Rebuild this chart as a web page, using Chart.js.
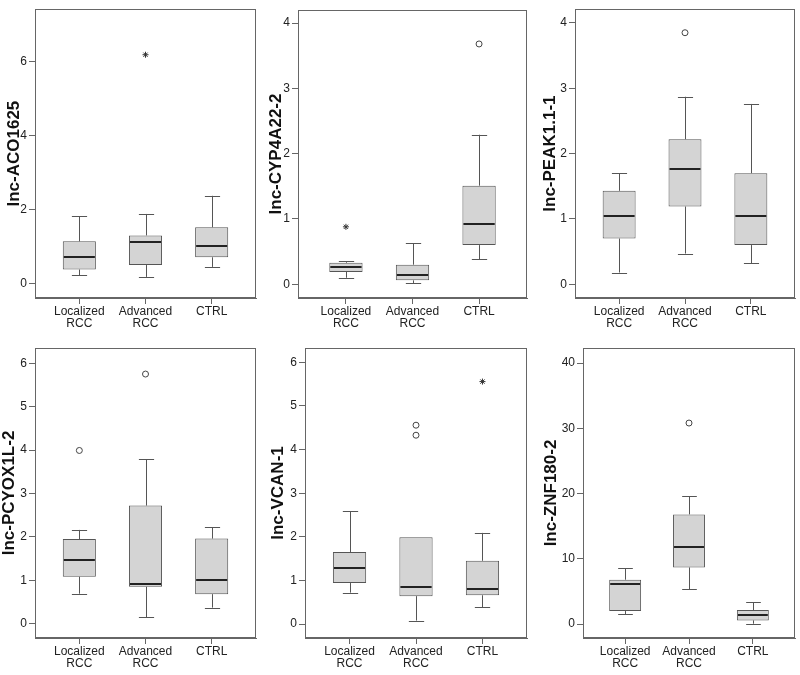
<!DOCTYPE html>
<html>
<head>
<meta charset="utf-8">
<script src="https://cdn.jsdelivr.net/npm/chart.js@4.4.0/dist/chart.umd.min.js"></script>
<style>
  body { margin: 0; background: #fff; }
  #wrap { position: relative; width: 800px; height: 675px; }
  .panel { position: absolute; }
</style>
</head>
<body>
<div id="wrap"></div>
<script>
// Categories and genes
const groups = [['Localized', 'RCC'], ['Advanced', 'RCC'], ['CTRL']];
const genes = ['lnc-ACO1625', 'lnc-CYP4A22-2', 'lnc-PEAK1.1-1', 'lnc-PCYOX1L-2', 'lnc-VCAN-1', 'lnc-ZNF180-2'];

// Box statistics, one row per gene, one value per group
const whiskerLow = [
    [0.22, 0.18, 0.45],
    [0.10, 0.02, 0.38],
    [0.18, 0.47, 0.32],
    [0.69, 0.15, 0.37],
    [0.72, 0.08, 0.38],
    [1.48, 5.36, 0.05]
];
const quart1 = [
    [0.38, 0.50, 0.71],
    [0.19, 0.06, 0.60],
    [0.70, 1.19, 0.60],
    [1.08, 0.85, 0.68],
    [0.94, 0.64, 0.66],
    [1.99, 8.67, 0.56]
];
const medians = [
    [0.72, 1.13, 1.02],
    [0.26, 0.14, 0.92],
    [1.05, 1.77, 1.04],
    [1.47, 0.91, 1.00],
    [1.29, 0.86, 0.80],
    [6.12, 11.8, 1.38]
];
const quart3 = [
    [1.14, 1.30, 1.52],
    [0.33, 0.30, 1.51],
    [1.43, 2.22, 1.70],
    [1.95, 2.72, 1.96],
    [1.65, 1.99, 1.45],
    [6.79, 16.8, 2.14]
];
const whiskerHigh = [
    [1.82, 1.88, 2.37],
    [0.35, 0.63, 2.29],
    [1.70, 2.87, 2.76],
    [2.16, 3.79, 2.22],
    [2.59, 1.99, 2.09],
    [8.57, 19.6, 3.37]
];

// Outliers as [group index, value]
const outlierCircles = [
    [],
    [[2, 3.68]],
    [[1, 3.85]],
    [[0, 3.99], [1, 5.75]],
    [[1, 4.56], [1, 4.33]],
    [[1, 30.8]]
];
const outlierStars = [
    [[1, 6.18]],
    [[0, 0.88]],
    [],
    [],
    [[2, 5.56]],
    []
];

// Y tick labels per gene
const yTicks = [
    [0, 2, 4, 6],
    [0, 1, 2, 3, 4],
    [0, 1, 2, 3, 4],
    [0, 1, 2, 3, 4, 5, 6],
    [0, 1, 2, 3, 4, 5, 6],
    [0, 10, 20, 30, 40]
];

// Panel placement: canvas box [x0,y0,x1,y1], plot frame [left,right,top,bottom], axis ranges
const panels = [
    { box: [0, 0, 262, 333],     frame: [35, 256, 3, 298],    xr: [-0.67, 2.67], yr: [-0.39, 7.41], titlePad: 4 },
    { box: [265, 0, 532, 333],   frame: [298, 528, 10, 298],  xr: [-0.72, 2.72], yr: [-0.21, 4.20], titlePad: 1 },
    { box: [535, 0, 800, 333],   frame: [575, 797, 8, 298],   xr: [-0.67, 2.67], yr: [-0.21, 4.21], titlePad: 5 },
    { box: [0, 335, 262, 675],   frame: [35, 256, 348, 638],  xr: [-0.67, 2.67], yr: [-0.33, 6.35], titlePad: -1 },
    { box: [265, 335, 532, 675], frame: [305, 528, 348, 638], xr: [-0.67, 2.67], yr: [-0.32, 6.33], titlePad: 3 },
    { box: [535, 335, 800, 675], frame: [583, 797, 348, 638], xr: [-0.66, 2.66], yr: [-2.14, 42.3], titlePad: 6 }
];

Chart.defaults.font.family = '"Liberation Sans", Arial, Helvetica, sans-serif';
Chart.defaults.color = '#222';

const lineColor = '#666';

// Draws whiskers, caps and medians using the chart's scales
const boxPlotPlugin = {
    id: 'boxPlot',
    afterDatasetsDraw(chart) {
        const g = chart.options.plugins.boxPlot.gene;
        const yScale = chart.scales.y;
        const meta = chart.getDatasetMeta(0);
        const ctx = chart.ctx;
        ctx.save();
        meta.data.forEach((bar, i) => {
            const x = Math.round(bar.x) + 0.5;
            const half = bar.width / 2;
            const cap = bar.width * 0.23;
            const yLow = yScale.getPixelForValue(whiskerLow[g][i]);
            const yQ1 = yScale.getPixelForValue(quart1[g][i]);
            const yQ3 = yScale.getPixelForValue(quart3[g][i]);
            const yHigh = yScale.getPixelForValue(whiskerHigh[g][i]);
            const yMed = yScale.getPixelForValue(medians[g][i]);

            ctx.strokeStyle = '#555';
            ctx.lineWidth = 1;
            ctx.beginPath();
            if (yHigh < yQ3 - 0.5) {
                ctx.moveTo(x, yQ3);
                ctx.lineTo(x, yHigh);
                ctx.moveTo(x - cap, Math.round(yHigh) + 0.5);
                ctx.lineTo(x + cap, Math.round(yHigh) + 0.5);
            }
            if (yLow > yQ1 + 0.5) {
                ctx.moveTo(x, yQ1);
                ctx.lineTo(x, yLow);
                ctx.moveTo(x - cap, Math.round(yLow) + 0.5);
                ctx.lineTo(x + cap, Math.round(yLow) + 0.5);
            }
            ctx.stroke();

            ctx.strokeStyle = '#222';
            ctx.lineWidth = 2;
            ctx.beginPath();
            ctx.moveTo(bar.x - half + 1, Math.round(yMed));
            ctx.lineTo(bar.x + half - 1, Math.round(yMed));
            ctx.stroke();
        });
        ctx.restore();
    },
    afterDraw(chart) {
        const a = chart.chartArea;
        const ctx = chart.ctx;
        ctx.save();
        ctx.strokeStyle = lineColor;
        ctx.lineWidth = 1;
        ctx.strokeRect(Math.round(a.left) + 0.5, Math.round(a.top) + 0.5,
            Math.round(a.right - a.left) - 1, Math.round(a.bottom - a.top) - 1);
        ctx.restore();
    }
};

function makePanel(g) {
    const p = panels[g];
    const [x0, y0, x1, y1] = p.box;
    const [fl, fr, ft, fb] = p.frame;

    const div = document.createElement('div');
    div.className = 'panel';
    div.style.left = x0 + 'px';
    div.style.top = y0 + 'px';
    div.style.width = (x1 - x0) + 'px';
    div.style.height = (y1 - y0) + 'px';
    const canvas = document.createElement('canvas');
    div.appendChild(canvas);
    document.getElementById('wrap').appendChild(div);

    const boxes = groups.map((_, i) => ({ x: i, y: [quart1[g][i], quart3[g][i]] }));
    const circles = outlierCircles[g].map(o => ({ x: o[0], y: o[1] }));
    const stars = outlierStars[g].map(o => ({ x: o[0], y: o[1] }));

    new Chart(canvas, {
        type: 'bar',
        data: {
            datasets: [
                {
                    data: boxes,
                    backgroundColor: '#d4d4d4',
                    borderColor: '#555',
                    borderWidth: 1,
                    borderSkipped: false,
                    barPercentage: 0.5,
                    categoryPercentage: 1
                },
                {
                    type: 'scatter',
                    data: circles,
                    pointStyle: 'circle',
                    radius: 3,
                    borderWidth: 1,
                    borderColor: '#444',
                    backgroundColor: '#fff'
                },
                {
                    type: 'scatter',
                    data: stars,
                    pointStyle: 'star',
                    radius: 3,
                    borderWidth: 1,
                    borderColor: '#333',
                    backgroundColor: '#333'
                }
            ]
        },
        options: {
            responsive: true,
            maintainAspectRatio: false,
            animation: false,
            devicePixelRatio: 1,
            layout: { padding: { top: ft - y0, right: x1 - fr, left: 0, bottom: 0 } },
            plugins: {
                legend: { display: false },
                tooltip: { enabled: false },
                boxPlot: { gene: g }
            },
            scales: {
                x: {
                    type: 'linear',
                    offset: false,
                    min: p.xr[0],
                    max: p.xr[1],
                    afterBuildTicks: s => { s.ticks = groups.map((_, i) => ({ value: i })); },
                    afterFit: s => { s.height = y1 - fb; },
                    ticks: {
                        autoSkip: false,
                        maxRotation: 0,
                        padding: 1,
                        font: { size: 12, lineHeight: 1.05 },
                        color: '#222',
                        callback: v => groups[v]
                    },
                    grid: { offset: false, drawOnChartArea: false, drawTicks: true, tickLength: 6, color: lineColor },
                    border: { display: true, color: lineColor }
                },
                y: {
                    type: 'linear',
                    min: p.yr[0],
                    max: p.yr[1],
                    afterBuildTicks: s => { s.ticks = yTicks[g].map(v => ({ value: v })); },
                    afterFit: s => { s.width = fl - x0; },
                    ticks: { padding: 2, font: { size: 12 }, color: '#222' },
                    grid: { drawOnChartArea: false, drawTicks: true, tickLength: 6, color: lineColor },
                    border: { display: true, color: lineColor },
                    title: {
                        display: true,
                        text: genes[g],
                        color: '#111',
                        font: { size: 17, weight: 'bold' },
                        padding: { top: p.titlePad, bottom: 0 }
                    }
                }
            }
        },
        plugins: [boxPlotPlugin]
    });
}

genes.forEach((_, g) => makePanel(g));
</script>
</body>
</html>
